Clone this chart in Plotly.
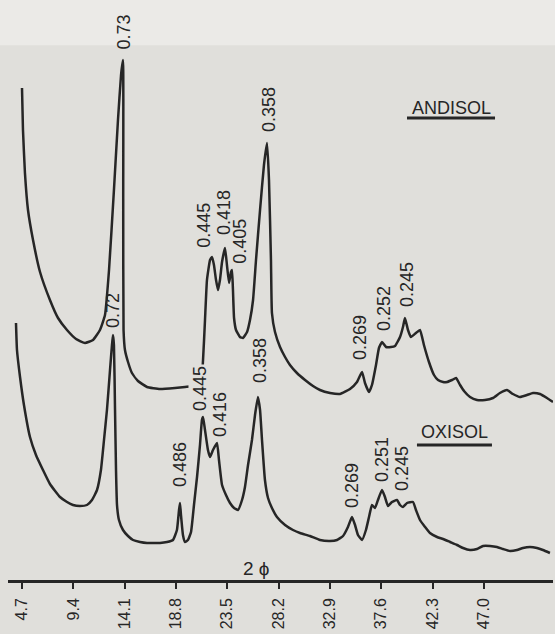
import plotly.graph_objects as go

# ---- data: 2-theta (degrees) and relative intensity ----
andisol_2theta = [4.70, 4.79, 4.97, 5.25, 5.71, 6.35, 7.26, 8.00, 8.82, 9.65, 10.47, 11.20, 11.84,
                  12.30, 12.67, 13.12, 13.49, 13.77, 13.95, 13.97, 14.00, 14.13, 14.41, 14.77, 15.32,
                  16.15, 17.34, 18.71, 19.63, 20.54, 21.09, 21.28, 21.46, 21.64, 21.92, 22.10, 22.28,
                  22.47, 22.65, 22.83, 23.02, 23.29, 23.47, 23.66, 23.84, 23.93, 24.02, 24.12, 24.30,
                  24.66, 24.94, 25.31, 25.58, 25.86, 26.13, 26.50, 26.86, 27.14, 27.32, 27.50, 27.59,
                  27.87, 28.33, 28.79, 29.24, 29.88, 30.62, 31.35, 31.99, 32.91, 33.82, 34.74, 35.38,
                  35.84, 36.11, 36.48, 36.75, 37.12, 37.39, 37.67, 38.04, 38.49, 38.86, 39.32, 39.59,
                  39.77, 40.05, 40.32, 40.78, 41.15, 41.51, 41.97, 42.43, 42.80, 43.26, 43.62, 44.08,
                  44.45, 44.82, 45.18, 45.73, 46.37, 47.10, 47.83, 48.47, 49.12, 49.66, 50.31, 50.95,
                  51.50, 52.14, 52.78, 53.33]
andisol_intensity = [492, 450, 407, 370, 340, 308, 280, 262, 250, 241, 237, 240, 250,
                     265, 310, 390, 460, 505, 520, 380, 250, 230, 218, 207, 199,
                     193, 191, 192, 193, 194, 197, 220, 260, 300, 320, 323, 315,
                     300, 290, 300, 318, 332, 315, 297, 308, 310, 290, 262, 250,
                     243, 242, 248, 260, 280, 320, 370, 415, 437, 400, 320, 267,
                     248, 233, 223, 215, 207, 200, 194, 190, 187, 186, 191, 198,
                     208, 197, 188, 195, 215, 232, 238, 233, 233, 234, 243, 253,
                     262, 250, 243, 247, 250, 235, 218, 205, 200, 198, 198, 200,
                     202, 195, 189, 183, 180, 180, 182, 187, 190, 186, 183, 185,
                     187, 186, 182, 178]

oxisol_2theta = [4.15, 4.24, 4.52, 4.88, 5.43, 5.98, 6.62, 7.26, 8.18, 8.82, 9.37, 10.01, 10.65,
                 11.11, 11.57, 11.93, 12.21, 12.48, 12.76, 12.94, 13.03, 13.12, 13.22, 13.31, 13.40,
                 13.58, 13.95, 14.41, 14.87, 15.51, 16.15, 16.70, 17.34, 17.98, 18.53, 18.89, 19.08,
                 19.17, 19.26, 19.44, 19.63, 19.90, 20.18, 20.45, 20.73, 21.00, 21.18, 21.28, 21.46,
                 21.73, 21.92, 22.19, 22.56, 22.74, 23.02, 23.38, 23.75, 24.12, 24.48, 24.85, 25.12,
                 25.40, 25.76, 26.04, 26.31, 26.50, 26.68, 26.95, 27.23, 27.59, 28.05, 28.79, 29.52,
                 30.16, 31.07, 31.99, 32.91, 33.55, 34.10, 34.55, 34.92, 35.20, 35.47, 35.84, 36.20,
                 36.48, 36.75, 37.03, 37.30, 37.67, 37.94, 38.22, 38.58, 39.04, 39.32, 39.59, 39.96,
                 40.51, 40.78, 41.15, 41.61, 42.06, 42.71, 43.26, 43.90, 44.54, 45.09, 45.73, 46.37,
                 46.92, 47.56, 48.20, 48.75, 49.39, 50.03, 50.58, 51.22, 51.86, 52.41, 53.05]
oxisol_intensity = [257, 230, 203, 175, 143, 125, 110, 96, 83, 78, 75, 74, 75,
                    80, 90, 110, 140, 170, 210, 235, 245, 235, 170, 110, 75,
                    60, 50, 44, 40, 38, 37, 37, 37, 38, 40, 50, 70,
                    77, 65, 45, 38, 40, 48, 75, 103, 135, 160, 163, 150,
                    130, 123, 130, 137, 120, 95, 85, 77, 72, 70, 80, 93,
                    115, 140, 165, 183, 170, 140, 100, 82, 72, 63, 55, 50,
                    47, 44, 40, 39, 40, 44, 53, 63, 55, 45, 40, 50,
                    63, 75, 72, 80, 90, 83, 74, 78, 80, 75, 73, 77,
                    78, 70, 60, 53, 47, 43, 41, 38, 35, 32, 30, 31,
                    34, 34, 33, 31, 29, 30, 32, 33, 32, 30, 27]

# d-spacing labels (nm) and where they sit
andisol_labels = ["0.73", "0.445", "0.418", "0.405", "0.358", "0.269", "0.252", "0.245"]
andisol_label_x = [14.00, 21.35, 23.20, 24.64, 27.33, 35.65, 37.85, 39.96]
andisol_label_y = [548, 355, 367, 339, 470, 243, 272, 295]

oxisol_labels = ["0.72", "0.486", "0.445", "0.416", "0.358", "0.269", "0.251", "0.245"]
oxisol_label_x = [13.03, 19.17, 21.00, 22.83, 26.50, 34.92, 37.67, 39.50]
oxisol_label_y = [270, 115, 192, 166, 219, 95, 120, 112]

tick_vals = [4.7, 9.4, 14.1, 18.8, 23.5, 28.2, 32.9, 37.6, 42.3, 47.0]
tick_text = ["4.7", "9.4", "14.1", "18.8", "23.5", "28.2", "32.9", "37.6", "42.3", "47.0"]

INK = "#262626"
BG = "#e0dfdb"
FONT = "Liberation Sans, Arial, Helvetica, sans-serif"

fig = go.Figure()
fig.add_trace(go.Scatter(x=andisol_2theta, y=andisol_intensity, mode="lines", name="ANDISOL",
                         line=dict(color=INK, width=2.5, shape="spline", smoothing=0.4),
                         hoverinfo="skip", cliponaxis=False))
fig.add_trace(go.Scatter(x=oxisol_2theta, y=oxisol_intensity, mode="lines", name="OXISOL",
                         line=dict(color=INK, width=2.5, shape="spline", smoothing=0.4),
                         hoverinfo="skip", cliponaxis=False))

annotations = []
for i, (t, x, y) in enumerate(zip(andisol_labels + oxisol_labels,
                                  andisol_label_x + oxisol_label_x,
                                  andisol_label_y + oxisol_label_y)):
    ann = dict(x=x, y=y, text=t, showarrow=False, textangle=-90,
               xanchor="center", yanchor="middle",
               font=dict(family=FONT, size=18, color=INK))
    # the oxisol 0.445 label is printed over the andisol trace in the original
    if i == len(andisol_labels) + 2:
        ann["bgcolor"] = BG
    annotations.append(ann)

annotations.append(dict(x=43.99, y=472, text="ANDISOL", showarrow=False,
                        font=dict(family=FONT, size=18, color=INK)))
annotations.append(dict(x=44.35, y=148, text="OXISOL", showarrow=False,
                        font=dict(family=FONT, size=18, color=INK)))
annotations.append(dict(x=26.13, y=12, text="2 ϕ", showarrow=False,
                        font=dict(family=FONT, size=19, color=INK)))

shapes = [
    dict(type="rect", xref="paper", yref="paper", x0=-0.02, x1=1.01, y0=0.922, y1=1.0,
         fillcolor="#ebeae7", line=dict(width=0), layer="below"),
    dict(type="line", x0=39.96, x1=48.02, y0=462, y1=462, line=dict(color=INK, width=3)),
    dict(type="line", x0=40.87, x1=47.74, y0=135, y1=135, line=dict(color=INK, width=3)),
]

fig.update_layout(
    width=555, height=634,
    margin=dict(l=8, r=2, t=0, b=54, autoexpand=False),
    paper_bgcolor=BG,
    plot_bgcolor=BG,
    showlegend=False,
    annotations=annotations,
    shapes=shapes,
    font=dict(family=FONT, color=INK),
    xaxis=dict(range=[3.418, 53.33], tickvals=tick_vals, ticktext=tick_text, automargin=False,
               tickangle=-90, ticks="outside", ticklen=6, tickwidth=2, tickcolor=INK,
               showline=True, linecolor=INK, linewidth=2.5, showgrid=False, zeroline=False,
               tickfont=dict(family=FONT, size=16, color=INK), ticklabelstandoff=3),
    yaxis=dict(range=[0, 580], visible=False, showgrid=False, zeroline=False, automargin=False),
)

fig.write_html("out.html", config={"displayModeBar": False},
               post_script="document.body.style.margin='0';document.body.style.background='#e0dfdb';")
